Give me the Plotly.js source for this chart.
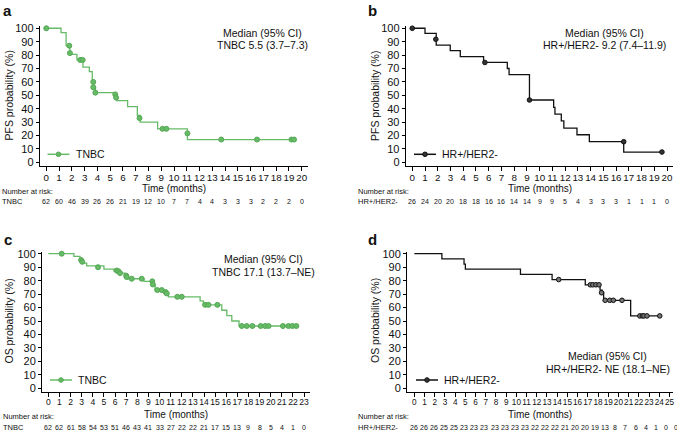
<!DOCTYPE html>
<html>
<head>
<meta charset="utf-8">
<script src="https://cdn.plot.ly/plotly-3.0.1.min.js"></script>
<style>html,body{margin:0;padding:0;background:#fff;}#chart{width:677px;height:433px;}</style>
</head>
<body>
<div id="chart"></div>
<script>
// ---------- Data ----------
// Panel a: PFS, TNBC
const aTime = [0, 1.15, 1.55, 1.85, 2.4, 2.87, 3.37, 3.6, 3.7, 3.85, 5.4, 5.5, 6.37, 7.13, 7.35, 8.72, 11.05, 19.4];
const aSurv = [100, 96.8, 87, 80.6, 76.4, 71, 67.7, 60, 56, 52, 49, 46, 41.5, 35, 30, 25, 17, 17];
const aCensT = [0, 1.8, 1.85, 2.65, 2.85, 3.68, 3.68, 3.84, 5.4, 5.47, 7.3, 9.1, 9.4, 11.05, 13.7, 16.5, 19.2, 19.4];
const aCensS = [100, 87, 81.5, 76.4, 76.4, 60, 56, 52, 50.7, 48.3, 33, 25, 25, 21.6, 17, 17, 17, 17];
const aRisk = [62, 60, 46, 39, 26, 26, 21, 19, 12, 10, 7, 7, 4, 4, 3, 3, 3, 2, 2, 2, 0];

// Panel b: PFS, HR+/HER2-
const bTime = [0, 1.0, 1.88, 2.98, 3.77, 5.6, 7.46, 7.6, 9.2, 11.1, 11.2, 11.7, 11.9, 12.93, 13.9, 16.6, 19.6];
const bSurv = [100, 96.2, 87.5, 83.3, 78.8, 74.5, 70, 65.5, 46.5, 41, 36, 31, 25.6, 20.6, 15.4, 7.7, 7.7];
const bCensT = [0, 1.85, 5.7, 9.2, 16.6, 19.6];
const bCensS = [100, 91.8, 74.5, 46.5, 15.4, 7.7];
const bRisk = [26, 24, 20, 20, 18, 18, 16, 16, 14, 14, 9, 9, 5, 4, 3, 3, 3, 1, 1, 1, 0];

// Panel c: OS, TNBC
const cTime = [0, 2.3, 2.85, 3.0, 3.45, 5.0, 5.9, 6.4, 6.9, 7.1, 8.6, 9.4, 9.6, 10.4, 10.6, 10.8, 13.65, 13.95, 15.6, 16.05, 16.5, 17.15, 22.3];
const cSurv = [100, 98, 95.3, 93, 91, 88.5, 87, 85.6, 83.7, 81.4, 79.5, 77.2, 73, 71.5, 70.5, 68, 65, 62, 58, 54, 50, 46.3, 46.3];
const cCensT = [1.2, 2.95, 3.05, 4.47, 6.15, 6.3, 6.45, 7.0, 7.05, 7.5, 8.4, 9.35, 9.4, 9.8, 10.2, 10.55, 10.65, 11.6, 12.0, 14.1, 14.4, 15.2, 17.4, 17.85, 18.35, 19.1, 19.5, 19.8, 21.1, 21.6, 21.95, 22.3];
const cCensS = [100, 95.3, 94, 90, 87.5, 87, 85.6, 83.7, 82.7, 81.4, 81.4, 79.5, 77.2, 73, 73, 71.5, 70.5, 68, 68, 62, 62, 62, 46.3, 46.3, 46.3, 46.3, 46.3, 46.3, 46.3, 46.3, 46.3, 46.3];
const cRisk = [62, 62, 61, 58, 54, 53, 51, 46, 43, 41, 33, 27, 22, 22, 21, 17, 15, 13, 9, 8, 5, 4, 1, 0];

// Panel d: OS, HR+/HER2-
const dTime = [0, 2.7, 4.87, 5.0, 10.4, 13.5, 16.75, 18.2, 18.4, 18.55, 21.2, 24.05];
const dSurv = [100, 96.2, 92.3, 88.5, 84.6, 80.8, 76.9, 73, 71, 65.4, 53.8, 53.8];
const dCensT = [14.15, 17.25, 17.5, 17.8, 18.1, 18.35, 18.7, 19.15, 19.5, 20.35, 22.1, 22.35, 22.5, 22.8, 24.05];
const dCensS = [80.8, 76.9, 76.9, 76.9, 76.9, 71, 65.4, 65.4, 65.4, 65.4, 53.8, 53.8, 53.8, 53.8, 53.8];
const dRisk = [26, 26, 26, 25, 25, 23, 23, 23, 23, 23, 23, 23, 22, 22, 22, 21, 20, 20, 19, 13, 8, 7, 6, 4, 1, 0, 0];

// ---------- Styling ----------
const W = 677, H = 433;
const GREEN = '#66bb66', GREEN_D = '#55a855', BLACK = '#111';
const FONT = 'Liberation Sans, Arial, Helvetica, sans-serif';
const px = v => v / W;
const py = v => 1 - v / H;

function kmTraces(t, s, ct, cs, xa, ya, col, mcol, mline, msize) {
  return [
    {x: t, y: s, xaxis: xa, yaxis: ya, mode: 'lines', line: {shape: 'hv', color: col, width: 1.3}, hoverinfo: 'skip', showlegend: false},
    {x: ct, y: cs, xaxis: xa, yaxis: ya, mode: 'markers', cliponaxis: false,
     marker: {symbol: 'circle', size: msize, color: mcol, line: {color: mline, width: 1}}, hoverinfo: 'skip', showlegend: false}
  ];
}

const data = [].concat(
  kmTraces(aTime, aSurv, aCensT, aCensS, 'x', 'y', GREEN, GREEN, GREEN_D, 5),
  kmTraces(bTime, bSurv, bCensT, bCensS, 'x2', 'y2', BLACK, '#333', BLACK, 4.6),
  kmTraces(cTime, cSurv, cCensT, cCensS, 'x3', 'y3', GREEN, GREEN, GREEN_D, 5),
  kmTraces(dTime, dSurv, dCensT, dCensS, 'x4', 'y4', BLACK, '#777', BLACK, 4.6)
);

function xAx(domain, range, anchor, fs) {
  return {domain: domain, range: range, anchor: anchor, tick0: 0, dtick: 1, tickangle: 0, ticks: 'outside', ticklen: 4, tickwidth: 1,
    ticklabelstandoff: -2,
    tickcolor: '#000', showline: true, linecolor: '#000', linewidth: 1.2, showgrid: false, zeroline: false,
    tickfont: {family: FONT, size: fs, color: '#111'}, fixedrange: true};
}
function yAx(domain, range, anchor) {
  return {domain: domain, range: range, anchor: anchor, tick0: 0, dtick: 10, tickangle: 0, ticks: 'outside', ticklen: 3, tickwidth: 1,
    tickcolor: '#000', showline: true, linecolor: '#000', linewidth: 1.2, showgrid: false, zeroline: false,
    tickfont: {family: FONT, size: 11, color: '#111'}, fixedrange: true};
}

const annotations = [];
const shapes = [];
function txt(x, y, text, size, opts) {
  annotations.push(Object.assign({xref: 'paper', yref: 'paper', x: px(x), y: py(y), text: text, showarrow: false,
    font: {family: FONT, size: size, color: '#111'}, xanchor: 'left', yanchor: 'middle'}, opts || {}));
}

// panel letters
txt(1, 10, '<b>a</b>', 15);
txt(366, 10, '<b>b</b>', 15);
txt(2, 240, '<b>c</b>', 15);
txt(366, 240, '<b>d</b>', 15);

// axis titles
txt(174, 189, 'Time (months)', 10, {xanchor: 'center'});
txt(540, 189, 'Time (months)', 10, {xanchor: 'center'});
txt(176, 414, 'Time (months)', 10, {xanchor: 'center'});
txt(540, 414, 'Time (months)', 10, {xanchor: 'center'});
txt(8.5, 96, 'PFS probability (%)', 10.5, {xanchor: 'center', textangle: -90});
txt(375, 96, 'PFS probability (%)', 10.5, {xanchor: 'center', textangle: -90});
txt(8.5, 321, 'OS probability (%)', 10.5, {xanchor: 'center', textangle: -90});
txt(375, 321, 'OS probability (%)', 10.5, {xanchor: 'center', textangle: -90});

// median boxes
txt(262, 33.5, 'Median (95% CI)', 10.5, {xanchor: 'center'});
txt(262, 45, 'TNBC 5.5 (3.7–7.3)', 10.5, {xanchor: 'center'});
txt(604, 33.5, 'Median (95% CI)', 10.5, {xanchor: 'center'});
txt(604, 45, 'HR+/HER2- 9.2 (7.4–11.9)', 10.5, {xanchor: 'center'});
txt(263, 259, 'Median (95% CI)', 10.5, {xanchor: 'center'});
txt(263, 271.5, 'TNBC 17.1 (13.7–NE)', 10.5, {xanchor: 'center'});
txt(607.5, 356, 'Median (95% CI)', 10.5, {xanchor: 'center'});
txt(607.5, 369, 'HR+/HER2- NE (18.1–NE)', 10.5, {xanchor: 'center'});

// legends (line + circle + text)
function legendItem(x0, x1, y, col, mcol, mline, label) {
  shapes.push({type: 'line', xref: 'paper', yref: 'paper', x0: px(x0), x1: px(x1), y0: py(y), y1: py(y), line: {color: col, width: 1.5}});
  const cx = (x0 + x1) / 2, r = 2.3;
  shapes.push({type: 'circle', xref: 'paper', yref: 'paper', x0: px(cx - r), x1: px(cx + r), y0: py(y - r), y1: py(y + r),
    fillcolor: mcol, line: {color: mline, width: 1}});
  txt(x1 + 4, y, label, 10.5);
}
legendItem(47.5, 69.5, 154.3, GREEN, GREEN, GREEN_D, 'TNBC');
legendItem(414, 436, 154.3, BLACK, '#333', BLACK, 'HR+/HER2-');
legendItem(50, 72, 380, GREEN, GREEN, GREEN_D, 'TNBC');
legendItem(416, 438, 380, BLACK, '#333', BLACK, 'HR+/HER2-');

// number at risk
txt(0, 191.7, 'Number at risk:', 7.5);
txt(0, 201.7, 'TNBC', 7.5);
txt(356, 191.7, 'Number at risk:', 7.5);
txt(356, 201.7, 'HR+/HER2-', 7.5);
txt(1, 416.7, 'Number at risk:', 7.5);
txt(1, 427.3, 'TNBC', 7.5);
txt(356, 416.7, 'Number at risk:', 7.5);
txt(356, 427.3, 'HR+/HER2-', 7.5);

function riskRow(vals, xref, yPix) {
  vals.forEach((v, i) => annotations.push({xref: xref, yref: 'paper', x: i, y: py(yPix), text: String(v), showarrow: false,
    font: {family: FONT, size: 7, color: '#111'}, xanchor: 'center', yanchor: 'middle'}));
}
riskRow(aRisk, 'x', 201.7);
riskRow(bRisk, 'x2', 201.7);
riskRow(cRisk, 'x3', 427.3);
// panel d row is printed with its own (slightly tighter) spacing than the axis ticks
dRisk.forEach((v, i) => txt(414 + i * 10.07, 427.3, String(v), 7, {xanchor: 'center'}));

const layout = {
  width: W, height: H, margin: {l: 0, r: 0, t: 0, b: 0},
  paper_bgcolor: '#fff', plot_bgcolor: '#fff', showlegend: false,
  font: {family: FONT, color: '#111'},
  xaxis: xAx([39.9 / W, 308.1 / W], [-0.5, 20.5], 'y', 9.8),
  yaxis: yAx([0.6173, 0.9409], [-2.5, 102], 'x'),
  xaxis2: xAx([405.9 / W, 673.4 / W], [-0.5, 20.5], 'y2', 9.8),
  yaxis2: yAx([0.6173, 0.9409], [-2.5, 102], 'x2'),
  xaxis3: xAx([42.2 / W, 310.2 / W], [-0.55, 23.55], 'y3', 8.6),
  yaxis3: yAx([0.0954, 0.4187], [-2.5, 101.5], 'x3'),
  xaxis4: xAx([407.2 / W, 672.5 / W], [-0.7, 25.3], 'y4', 8.2),
  yaxis4: yAx([0.0954, 0.4187], [-2.5, 101.5], 'x4'),
  annotations: annotations, shapes: shapes
};

Plotly.newPlot('chart', data, layout, {staticPlot: true, displayModeBar: false});
</script>
</body>
</html>
